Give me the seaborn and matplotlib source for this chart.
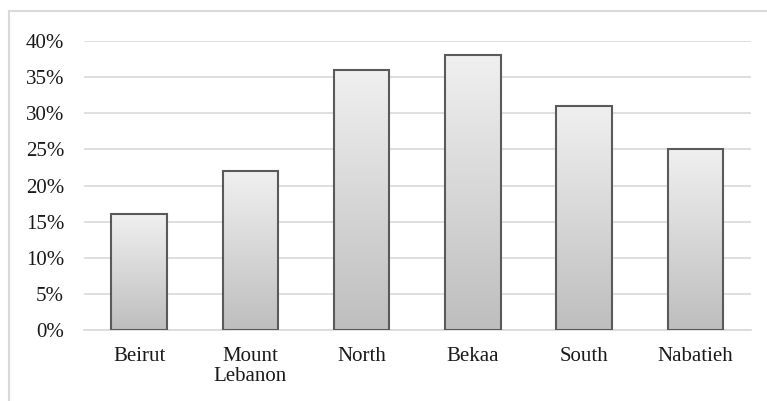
import numpy as np
import pandas as pd
import matplotlib
matplotlib.use("Agg")
import matplotlib.pyplot as plt
import seaborn as sns
from matplotlib.patches import Rectangle
from matplotlib.colors import LinearSegmentedColormap
from matplotlib.ticker import PercentFormatter

regions = ["Beirut", "Mount\nLebanon", "North", "Bekaa", "South", "Nabatieh"]
shares = [16, 22, 36, 38, 31, 25]
y_ticks = [0, 5, 10, 15, 20, 25, 30, 35, 40]

sns.set_theme(style="white")
plt.rcParams["font.family"] = ["Liberation Serif", "DejaVu Serif"]

df = pd.DataFrame({"region": regions, "share": shares})

fig = plt.figure(figsize=(7.67, 4.01), dpi=100)
ax = fig.add_axes([83.5 / 767, (401 - 330) / 401, (751 - 83.5) / 767, (330 - 41) / 401])

sns.barplot(data=df, x="region", y="share", ax=ax, width=0.5,
            color="#d9d9d9", edgecolor="#5a5a5a", linewidth=1.5, zorder=3)

ax.set_ylim(0, 40)
ax.set_yticks(y_ticks)
ax.yaxis.set_major_formatter(PercentFormatter(decimals=0))
ax.grid(axis="y", color="#d9d9d9", linewidth=1.2, zorder=0)
for s in ["top", "right", "left"]:
    ax.spines[s].set_visible(False)
ax.spines["bottom"].set_color("#d9d9d9")
ax.spines["bottom"].set_linewidth(1.2)
ax.set_xlabel("")
ax.set_ylabel("")
ax.tick_params(axis="both", length=0, labelsize=15, colors="#1a1a1a")
ax.tick_params(axis="x", pad=12)
ax.tick_params(axis="y", pad=14)
for lbl in ax.get_xticklabels():
    lbl.set_linespacing(1.1)

# vertical gradient fill for each bar, clipped to the bar outline
cmap = LinearSegmentedColormap.from_list("bar_grad", ["#bebebe", "#f0f0f0"])
grad = np.linspace(0, 1, 256).reshape(-1, 1)
for bar in ax.patches:
    x0, y0 = bar.get_x(), bar.get_y()
    w, h = bar.get_width(), bar.get_height()
    bar.set_facecolor("none")
    im = ax.imshow(grad, cmap=cmap, aspect="auto", origin="lower",
                   extent=(x0, x0 + w, y0, y0 + h), zorder=2.5)
    im.set_clip_path(bar)
ax.set_xlim(-0.5, len(regions) - 0.5)
ax.set_ylim(0, 40)

# chart-area frame (runs off the right and bottom edges)
fig.patches.append(Rectangle((8.5 / 767, -5 / 401), 770 / 767, (391 + 5 - 0.5) / 401,
                             transform=fig.transFigure, fill=False,
                             edgecolor="#d9d9d9", linewidth=1.5))

fig.savefig("out.png", dpi=100)
